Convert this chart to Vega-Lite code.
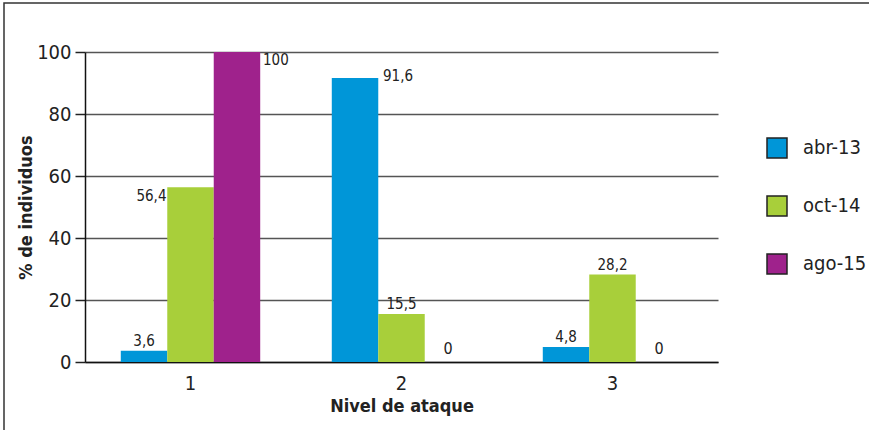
{
  "$schema": "https://vega.github.io/schema/vega-lite/v6.json",
  "width": 866,
  "height": 440,
  "autosize": {"type": "none"},
  "padding": {"left": 4, "top": 3, "right": 0, "bottom": 0},
  "background": "white",
  "config": {
    "view": {"stroke": "#333", "strokeWidth": 1.5},
    "font": "Liberation Sans Narrow, DejaVu Sans Condensed, sans-serif",
    "text": {"font": "Liberation Sans Narrow, DejaVu Sans Condensed, sans-serif"}
  },
  "data": {
    "values": [
      {"nivel": "1", "serie": "abr-13", "valor": 3.6, "label": "3,6"},
      {"nivel": "1", "serie": "oct-14", "valor": 56.4, "label": "56,4"},
      {"nivel": "1", "serie": "ago-15", "valor": 100, "label": "100"},
      {"nivel": "2", "serie": "abr-13", "valor": 91.6, "label": "91,6"},
      {"nivel": "2", "serie": "oct-14", "valor": 15.5, "label": "15,5"},
      {"nivel": "2", "serie": "ago-15", "valor": 0, "label": "0"},
      {"nivel": "3", "serie": "abr-13", "valor": 4.8, "label": "4,8"},
      {"nivel": "3", "serie": "oct-14", "valor": 28.2, "label": "28,2"},
      {"nivel": "3", "serie": "ago-15", "valor": 0, "label": "0"}
    ]
  },
  "encoding": {
    "x": {
      "field": "nivel",
      "type": "nominal",
      "scale": {"range": [81, 714], "paddingInner": 0, "paddingOuter": 0},
      "axis": {
        "orient": "bottom",
        "offset": -81,
        "labelAngle": 0,
        "labelFontSize": 20,
        "labelColor": "#222",
        "labelPadding": 11,
        "ticks": false,
        "domainColor": "#111",
        "domainWidth": 1.5,
        "grid": false,
        "title": "Nivel de ataque",
        "titleFontSize": 18,
        "titleFontWeight": "bold",
        "titleColor": "#222",
        "titlePadding": 4
      }
    },
    "xOffset": {
      "field": "serie",
      "type": "nominal",
      "sort": ["abr-13", "oct-14", "ago-15"],
      "scale": {"paddingInner": 0, "paddingOuter": 0.77}
    },
    "y": {
      "field": "valor",
      "type": "quantitative",
      "scale": {"domain": [0, 100], "range": [359, 49]},
      "axis": {
        "offset": -81,
        "values": [0, 20, 40, 60, 80, 100],
        "labelFontSize": 20,
        "labelColor": "#222",
        "labelPadding": 4,
        "tickSize": 10,
        "tickColor": "#222",
        "tickWidth": 1.5,
        "domainColor": "#111",
        "domainWidth": 1.5,
        "grid": true,
        "gridColor": "#555",
        "gridWidth": 1.5,
        "title": "% de individuos",
        "titleFontSize": 18,
        "titleFontWeight": "bold",
        "titleColor": "#222",
        "titlePadding": 1
      }
    }
  },
  "layer": [
    {
      "mark": {"type": "bar"},
      "encoding": {
        "color": {
          "field": "serie",
          "type": "nominal",
          "sort": ["abr-13", "oct-14", "ago-15"],
          "scale": {"domain": ["abr-13", "oct-14", "ago-15"], "range": ["#0096D8", "#A8CF3A", "#9F228C"]},
          "legend": {
            "orient": "none",
            "legendX": 762,
            "legendY": 134,
            "title": null,
            "symbolType": "square",
            "symbolSize": 400,
            "symbolStrokeColor": "#222",
            "symbolStrokeWidth": 1.5,
            "labelFontSize": 20,
            "labelColor": "#222",
            "labelOffset": 15,
            "rowPadding": 32
          }
        }
      }
    },
    {
      "transform": [{"filter": "datum.valor > 0 && datum.valor < 50"}],
      "mark": {"type": "text", "fontSize": 15, "color": "#222", "baseline": "bottom", "dy": -2},
      "encoding": {"text": {"field": "label"}}
    },
    {
      "transform": [{"filter": "datum.valor == 0"}],
      "mark": {"type": "text", "fontSize": 16, "color": "#222", "baseline": "bottom", "dy": -5},
      "encoding": {"text": {"field": "label"}}
    },
    {
      "transform": [{"filter": "datum.valor == 100"}],
      "mark": {"type": "text", "fontSize": 15, "color": "#222", "align": "left", "baseline": "top", "dx": 26, "dy": 1},
      "encoding": {"text": {"field": "label"}}
    },
    {
      "transform": [{"filter": "datum.valor == 91.6"}],
      "mark": {"type": "text", "fontSize": 15, "color": "#222", "align": "left", "baseline": "middle", "dx": 28, "dy": -2},
      "encoding": {"text": {"field": "label"}}
    },
    {
      "transform": [{"filter": "datum.valor == 56.4"}],
      "mark": {"type": "text", "fontSize": 15, "color": "#222", "align": "right", "baseline": "middle", "dx": -24, "dy": 9},
      "encoding": {"text": {"field": "label"}}
    }
  ]
}
